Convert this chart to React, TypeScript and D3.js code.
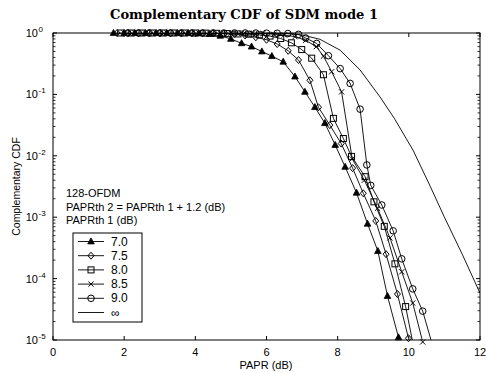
import React from 'react';
import * as d3 from 'd3';

const W = 486, H = 373;
const L = 53, R = 480, T = 33, B = 340;

// PAPRth1 = 7.0 (triangle)
const xTri = [1.7, 2.0, 2.3, 2.6, 2.9, 3.2, 3.5, 3.8, 4.1, 4.4, 4.7, 5.0, 5.3, 5.58, 5.87, 6.15, 6.47, 6.8, 7.08, 7.36, 7.64, 7.93, 8.21, 8.53, 8.84, 9.13, 9.4, 9.71];
const pTri = [1, 1, 1, 1, 1, 0.999, 0.998, 0.995, 0.985, 0.96, 0.9, 0.8, 0.68, 0.6, 0.5, 0.42, 0.34, 0.195, 0.11, 0.062, 0.034, 0.015, 0.0066, 0.0025, 7.8e-4, 2.8e-4, 5.2e-5, 1.1e-5];
// 7.5 (diamond)
const xDia = [1.8, 2.1, 2.4, 2.7, 3.0, 3.3, 3.6, 3.9, 4.2, 4.5, 4.8, 5.1, 5.4, 5.7, 6.0, 6.3, 6.61, 6.9, 7.22, 7.46, 7.78, 8.1, 8.42, 8.72, 9.07, 9.36, 9.68, 9.99];
const pDia = [1, 1, 1, 1, 1, 1, 1, 0.999, 0.997, 0.99, 0.975, 0.955, 0.912, 0.851, 0.776, 0.661, 0.513, 0.363, 0.17, 0.0617, 0.0316, 0.0158, 0.0063, 0.00245, 8.7e-4, 2.5e-4, 5.6e-5, 1.07e-5];
// 8.0 (square)
const xSq = [1.9, 2.2, 2.5, 2.8, 3.1, 3.4, 3.7, 4.0, 4.3, 4.6, 4.9, 5.2, 5.5, 5.8, 6.1, 6.4, 6.7, 6.99, 7.27, 7.6, 7.88, 8.16, 8.39, 8.77, 9.02, 9.31, 9.61, 9.91, 10.2];
const pSq = [1, 1, 1, 1, 1, 1, 1, 1, 0.995, 0.989, 0.977, 0.966, 0.955, 0.933, 0.891, 0.813, 0.692, 0.537, 0.389, 0.209, 0.0407, 0.0191, 0.00977, 0.00457, 0.00178, 7.1e-4, 1.74e-4, 3.5e-5, 5e-6];
// 8.5 (x)
const xX = [2.0, 2.3, 2.6, 2.9, 3.2, 3.5, 3.8, 4.1, 4.4, 4.7, 5.0, 5.3, 5.6, 5.9, 6.2, 6.5, 6.8, 7.1, 7.4, 7.6, 7.83, 8.11, 8.41, 8.75, 9.12, 9.47, 9.8, 10.11, 10.39];
const pX = [1, 1, 1, 1, 1, 1, 1, 1, 1, 1, 0.998, 0.995, 0.99, 0.98, 0.955, 0.93, 0.87, 0.76, 0.6, 0.42, 0.234, 0.11, 0.0089, 0.004, 0.0014, 4.6e-4, 1.29e-4, 4e-5, 9.3e-6];
// 9.0 (circle)
const xCir = [2.1, 2.4, 2.7, 3.0, 3.3, 3.6, 3.9, 4.2, 4.5, 4.8, 5.1, 5.4, 5.7, 6.0, 6.3, 6.6, 6.9, 7.1, 7.41, 7.74, 8.07, 8.35, 8.63, 8.82, 8.93, 9.24, 9.56, 9.8, 10.11, 10.39, 10.7];
const pCir = [1, 1, 1, 1, 1, 1, 1, 1, 1, 1, 1, 1, 0.998, 0.995, 0.99, 0.98, 0.95, 0.83, 0.676, 0.427, 0.263, 0.151, 0.0575, 0.0071, 0.0033, 0.00158, 6e-4, 2.1e-4, 6.8e-5, 2.95e-5, 7e-6];
// infinity (plain line)
const xInf = [1.7, 3.0, 4.0, 5.0, 6.0, 6.5, 7.0, 7.5, 8.07, 8.63, 9.19, 9.6, 10.12, 10.6, 11.0, 11.5, 12.0];
const pInf = [1, 1, 1, 1, 1, 0.99, 0.93, 0.79, 0.525, 0.25, 0.091, 0.04, 0.0123, 0.0032, 0.001, 2.5e-4, 5.8e-5];

const legendLabels = ['7.0', '7.5', '8.0', '8.5', '9.0', '\u221E'];
const markerTypes = ['tri', 'dia', 'sq', 'x', 'cir', 'none'];
const xTicks = [0, 2, 4, 6, 8, 10, 12];
const yExps = [0, -1, -2, -3, -4, -5];
const noteLines = ['128-OFDM', 'PAPRth 2 = PAPRth 1 + 1.2 (dB)', 'PAPRth 1 (dB)'];

const seriesX = [xTri, xDia, xSq, xX, xCir, xInf];
const seriesP = [pTri, pDia, pSq, pX, pCir, pInf];

function Marker({ type, cx, cy }: { type: string; cx: number; cy: number }) {
  const s = { stroke: '#000', strokeWidth: 1, fill: 'none' } as any;
  if (type === 'tri') return <polygon points={`${cx},${cy - 3.6} ${cx - 3.3},${cy + 2.4} ${cx + 3.3},${cy + 2.4}`} fill="#000" stroke="#000" strokeWidth={0.8} />;
  if (type === 'dia') return <polygon points={`${cx},${cy - 3.5} ${cx + 3},${cy} ${cx},${cy + 3.5} ${cx - 3},${cy}`} {...s} />;
  if (type === 'sq') return <rect x={cx - 3} y={cy - 3} width={6} height={6} {...s} />;
  if (type === 'x') return <path d={`M${cx - 2.6},${cy - 2.6}L${cx + 2.6},${cy + 2.6}M${cx - 2.6},${cy + 2.6}L${cx + 2.6},${cy - 2.6}`} {...s} />;
  if (type === 'cir') return <circle cx={cx} cy={cy} r={3.3} {...s} />;
  return null;
}

export default function App() {
  const x = d3.scaleLinear().domain([0, 12]).range([L, R]);
  const y = d3.scaleLog().domain([1e-5, 1]).range([B, T]);

  const minor: number[] = [];
  for (let e = -5; e < 0; e++) for (let m = 2; m <= 9; m++) minor.push(m * Math.pow(10, e));

  const font = "'Liberation Sans', Arial, sans-serif";
  const legRows = [241.5, 255.7, 269.9, 284.1, 298.3, 312.5];

  return (
    <svg width={W} height={H} style={{ position: 'absolute', left: 0, top: 0, background: '#fff' }} fontFamily={font}>
      <defs>
        <clipPath id="pc"><rect x={L} y={T} width={R - L} height={B - T} /></clipPath>
      </defs>
      <rect x={0} y={0} width={W} height={H} fill="#fff" />
      <text x={244} y={19} textAnchor="middle" fontFamily="'DejaVu Serif', 'Liberation Serif', serif" fontWeight="bold" fontSize={13} textLength={268} lengthAdjust="spacingAndGlyphs">Complementary CDF of SDM mode 1</text>

      <g clipPath="url(#pc)">
        {seriesX.map((xs, i) => {
          const pts = xs.map((v, j) => [x(v), y(seriesP[i][j])] as [number, number]);
          return <path key={i} d={d3.line()(pts) || ''} fill="none" stroke="#000" strokeWidth={0.9} />;
        })}
      </g>
      {seriesX.map((xs, i) => (
        <g key={'m' + i}>
          {xs.map((v, j) => {
            const p = seriesP[i][j];
            if (p < 8.5e-6 || v > 12) return null;
            return <Marker key={j} type={markerTypes[i]} cx={x(v)} cy={y(p)} />;
          })}
        </g>
      ))}

      <rect x={L} y={T} width={R - L} height={B - T} fill="none" stroke="#000" strokeWidth={1} />
      {xTicks.map(t => (
        <g key={'xt' + t}>
          <line x1={x(t)} x2={x(t)} y1={B} y2={B - 4} stroke="#000" />
          <line x1={x(t)} x2={x(t)} y1={T} y2={T + 4} stroke="#000" />
          <text x={x(t)} y={356} textAnchor="middle" fontSize={11}>{t}</text>
        </g>
      ))}
      {yExps.map(e => (
        <g key={'yt' + e}>
          <line x1={L} x2={L + 4} y1={y(Math.pow(10, e))} y2={y(Math.pow(10, e))} stroke="#000" />
          <line x1={R} x2={R - 4} y1={y(Math.pow(10, e))} y2={y(Math.pow(10, e))} stroke="#000" />
          <text x={38} y={y(Math.pow(10, e)) + 4} textAnchor="end" fontSize={11}>10</text>
          <text x={38.5} y={y(Math.pow(10, e)) - 1} textAnchor="start" fontSize={8}>{e}</text>
        </g>
      ))}
      {minor.map((v, i) => (
        <g key={'mn' + i}>
          <line x1={L} x2={L + 2.5} y1={y(v)} y2={y(v)} stroke="#000" strokeWidth={0.8} />
          <line x1={R} x2={R - 2.5} y1={y(v)} y2={y(v)} stroke="#000" strokeWidth={0.8} />
        </g>
      ))}

      <text x={266} y={369} textAnchor="middle" fontSize={11}>PAPR (dB)</text>
      <text transform={`translate(20,${(T + B) / 2}) rotate(-90)`} textAnchor="middle" fontSize={10.5}>Complementary CDF</text>

      {noteLines.map((s, i) => (
        <text key={s} x={66} y={197 + i * 13.5} fontSize={11}>{s}</text>
      ))}

      <rect x={73} y={233} width={69} height={89} fill="#fff" stroke="#000" strokeWidth={1} />
      {legendLabels.map((lab, i) => (
        <g key={lab}>
          <line x1={78} x2={104} y1={legRows[i]} y2={legRows[i]} stroke="#000" strokeWidth={0.9} />
          <Marker type={markerTypes[i]} cx={91} cy={legRows[i]} />
          <text x={111} y={legRows[i] + 4} fontSize={12}>{lab}</text>
        </g>
      ))}
    </svg>
  );
}
